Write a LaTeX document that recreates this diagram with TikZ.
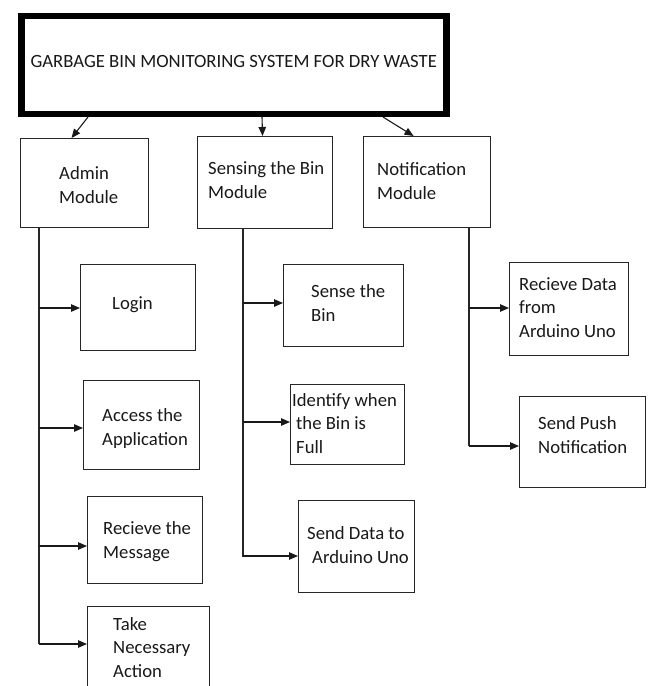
\documentclass[tikz,border=0pt]{standalone}
\usepackage{fontspec}
\setmainfont{Carlito}
\usetikzlibrary{arrows.meta}
\begin{document}
\begin{tikzpicture}[x=1pt,y=-1pt,
  box/.style={draw=black!85, line width=1.1pt, inner sep=0pt, anchor=north west},
  txt/.style={inner sep=0pt, anchor=base west, align=left, text=black!90, font=\fontsize{18.7}{23.4}\selectfont},
  arr/.style={draw=black!90, line width=1.1pt, -{Triangle[length=9pt,width=7.5pt]}},
  ln/.style={draw=black!85, line width=1.1pt}]
\useasboundingbox (0,0) rectangle (651,686);
\clip (0,0) rectangle (651,686);
\fill[white] (0,0) rectangle (651,686);

% title
\node[draw=black, line width=6.5pt, inner sep=0pt, anchor=north west,
  minimum width=425pt, minimum height=98pt, text depth=6pt, text=black!90,
  font=\fontsize{18.7}{23.4}\selectfont] (title) at (18,12.5)
  {GARBAGE BIN MONITORING SYSTEM FOR DRY WASTE};

% module boxes
\node[box, minimum width=128pt, minimum height=89pt] (admin) at (20,138) {};
\node[box, minimum width=135pt, minimum height=92pt] (sensing) at (197,136) {};
\node[box, minimum width=127pt, minimum height=91pt] (notif) at (363,136) {};

% admin sub boxes
\node[box, minimum width=115pt, minimum height=86pt] (login) at (80,264) {};
\node[box, minimum width=116pt, minimum height=89pt] (access) at (83,380) {};
\node[box, minimum width=115pt, minimum height=87pt] (recv) at (87,496) {};
\node[box, minimum width=122pt, minimum height=100pt] (take) at (87,606) {};

% sensing sub boxes
\node[box, minimum width=120pt, minimum height=82pt] (sense) at (283,264) {};
\node[box, minimum width=114pt, minimum height=80pt] (identify) at (290,384) {};
\node[box, minimum width=116pt, minimum height=92pt] (senddata) at (298,500) {};

% notification sub boxes
\node[box, minimum width=119pt, minimum height=93pt] (recvdata) at (509,262) {};
\node[box, minimum width=126pt, minimum height=91pt] (push) at (519,396) {};

% texts (anchor = baseline of the last line)
\node[txt] (adminT) at (59,203) {Admin\\Module};
\node[txt] (sensingT) at (208,198) {Sensing the Bin\\Module};
\node[txt] (notifT) at (377,199) {Notification\\Module};
\node[txt] (loginT) at (112,309) {Login};
\node[txt] (accessT) at (102,445) {Access the\\Application};
\node[txt] (recvT) at (103,558) {Recieve the\\Message};
\node[txt] (takeT) at (113,677) {Take\\Necessary\\Action};
\node[txt] (senseT) at (311,321) {Sense the\\Bin};
\node[txt] (identifyT) at (292,453) {Identify when\\\hspace*{4pt}the Bin is\\\hspace*{4pt}Full};
\node[txt] (senddataT) at (307,563) {Send Data to\\\hspace*{5pt}Arduino Uno};
\node[txt] (recvdataT) at (519,337) {Recieve Data\\from\\Arduino Uno};
\node[txt] (pushT) at (538,453) {Send Push\\Notification};

% title arrows
\draw[arr] ([xshift=70pt]title.south west) -- ([xshift=-13pt]admin.north);
\draw[arr] ([xshift=244pt]title.south west) -- ([xshift=-2.5pt]sensing.north);
\draw[arr] ([xshift=365pt]title.south west) -- ([xshift=-13.5pt]notif.north);

% admin tree
\coordinate (aTop) at (39,227);
\coordinate (aEnd) at (39,644);
\coordinate (aB1) at (39,308);
\coordinate (aB2) at (39,428);
\coordinate (aB3) at (39,546);
\draw[ln] (aTop) -- (aEnd);
\draw[arr] (aB1) -- (aB1 -| login.west);
\draw[arr] (aB2) -- (aB2 -| access.west);
\draw[arr] (aB3) -- (aB3 -| recv.west);
\draw[arr] (aEnd) -- (aEnd -| take.west);

% sensing tree
\coordinate (sTop) at (243,228);
\coordinate (sEnd) at (243,557);
\coordinate (sB1) at (243,303);
\coordinate (sB2) at (243,422);
\coordinate (sB3) at (243,556);
\draw[ln] (sTop) -- (sEnd);
\draw[arr] (sB1) -- (sB1 -| sense.west);
\draw[arr] (sB2) -- (sB2 -| identify.west);
\draw[arr] (sB3) -- (sB3 -| senddata.west);

% notification tree
\coordinate (nTop) at (469,227);
\coordinate (nEnd) at (469,446);
\coordinate (nB1) at (469,308);
\draw[ln] (nTop) -- (nEnd);
\draw[arr] (nB1) -- (nB1 -| recvdata.west);
\draw[arr] (nEnd) -- (nEnd -| push.west);
\end{tikzpicture}
\end{document}
